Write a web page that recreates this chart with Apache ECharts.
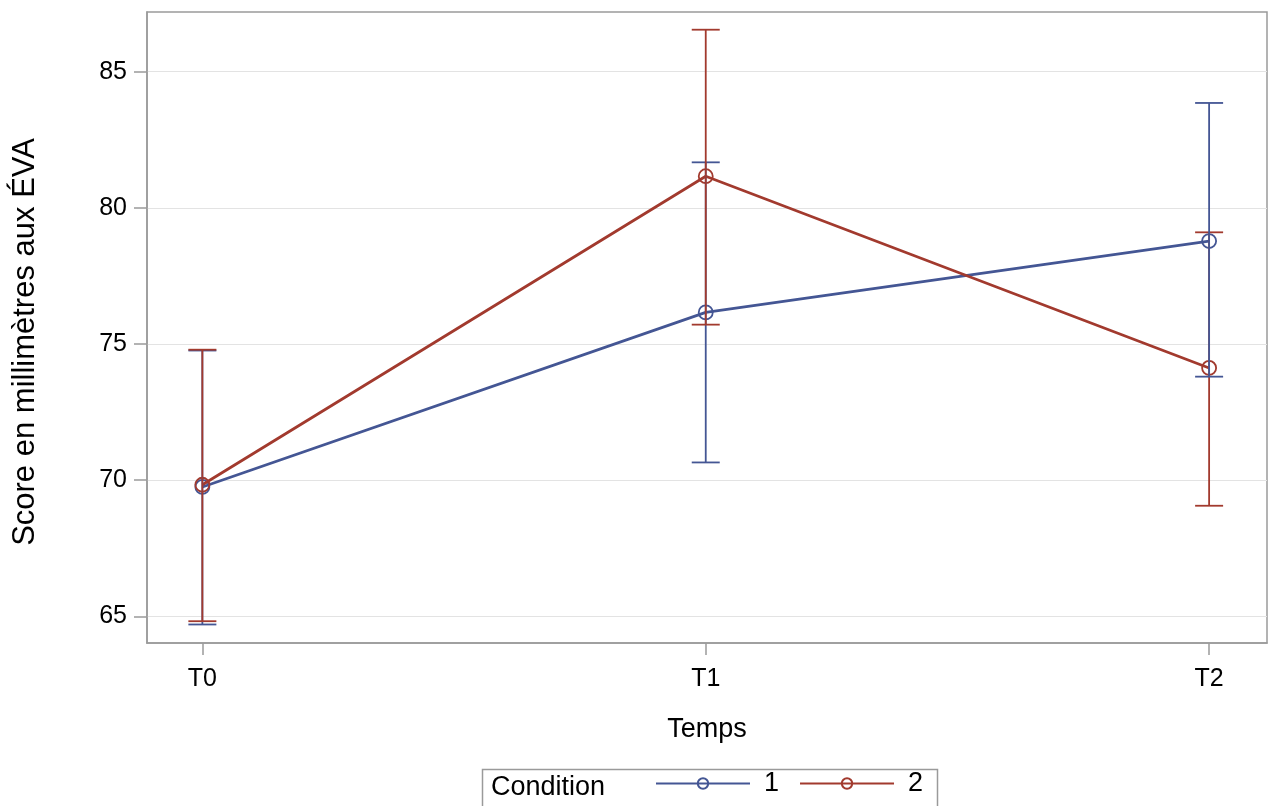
<!DOCTYPE html>
<html>
<head>
<meta charset="utf-8">
<script src="https://cdn.jsdelivr.net/npm/echarts@6/dist/echarts.min.js"></script>
<style>html,body{margin:0;padding:0;background:#fff;}#c{width:1270px;height:806px;}</style>
</head>
<body>
<div id="c"></div>
<script>
var timeLabels = ['T0', 'T1', 'T2'];
var timePos = [0, 1, 2];
var yTicks = [65, 70, 75, 80, 85];
var conditionNames = ['1', '2'];
var mean1 = [69.75, 76.16, 78.78];
var lower1 = [64.70, 70.65, 73.80];
var upper1 = [74.76, 81.67, 83.85];
var mean2 = [69.83, 81.16, 74.12];
var lower2 = [64.82, 75.71, 69.06];
var upper2 = [74.79, 86.54, 79.10];

var BLUE = '#445694', RED = '#A23A2E', FONT = '"Liberation Sans", Arial, sans-serif';

function pairs(means) { return timePos.map(function (x, i) { return [x, means[i]]; }); }
function bars(lo, hi) { return timePos.map(function (x, i) { return [x, lo[i], hi[i]]; }); }

function errRender(color, topIdx) {
  return function (params, api) {
    var x = api.value(0);
    var p1 = api.coord([x, api.value(1)]);
    var p2 = api.coord([x, api.value(2)]);
    var hw = 14;
    var z2 = (params.dataIndex === topIdx) ? 20 : 10;
    var st = { stroke: color, lineWidth: 1.8 };
    return {
      type: 'group',
      children: [
        { type: 'line', z2: z2, shape: { x1: p1[0], y1: p1[1], x2: p2[0], y2: p2[1] }, style: st },
        { type: 'line', z2: z2, shape: { x1: p1[0] - hw, y1: p1[1], x2: p1[0] + hw, y2: p1[1] }, style: st },
        { type: 'line', z2: z2, shape: { x1: p2[0] - hw, y1: p2[1], x2: p2[0] + hw, y2: p2[1] }, style: st }
      ]
    };
  };
}

var chart = echarts.init(document.getElementById('c'), null, { renderer: 'canvas' });
chart.setOption({
  animation: false,
  backgroundColor: '#fff',
  grid: { left: 147, right: 3, top: 12, bottom: 163, show: true, borderColor: '#9a9a9a', borderWidth: 1.5, backgroundColor: 'transparent' },
  xAxis: {
    type: 'value', min: -0.11, max: 2.115,
    name: 'Temps', nameLocation: 'middle', nameGap: 73,
    nameTextStyle: { fontFamily: FONT, fontSize: 27, color: '#000' },
    axisLine: { show: true, onZero: false, lineStyle: { color: '#9a9a9a', width: 1.5 } },
    axisTick: { show: true, customValues: timePos, length: 12, lineStyle: { color: '#9a9a9a', width: 1.5 } },
    axisLabel: { customValues: timePos, margin: 24, fontFamily: FONT, fontSize: 25, color: '#000',
      formatter: function (v) { return timeLabels[Math.round(v)]; } },
    splitLine: { show: false }
  },
  yAxis: {
    type: 'value', min: 64.02, max: 87.19,
    axisLine: { show: true, onZero: false, lineStyle: { color: '#9a9a9a', width: 1.5 } },
    axisTick: { show: true, customValues: yTicks, length: 13, lineStyle: { color: '#9a9a9a', width: 1.5 } },
    axisLabel: { customValues: yTicks, margin: 20, fontFamily: FONT, fontSize: 25, color: '#000' },
    splitLine: { show: true, lineStyle: { color: '#e3e3e3', width: 1.2 } }
  },
  legend: {
    left: 655, top: 770, orient: 'horizontal', padding: 0,
    itemWidth: 94, itemHeight: 13, itemGap: 20,
    textStyle: { fontFamily: FONT, fontSize: 27, color: '#000', padding: [0, 0, 0, 9] },
    data: conditionNames
  },
  graphic: [
    { type: 'rect', left: 480, top: 767, shape: { width: 455, height: 60 }, style: { fill: 'none', stroke: '#9a9a9a', lineWidth: 1.5 }, z: 1 },
    { type: 'text', left: 491, top: 774, style: { text: 'Condition', font: '27px ' + FONT, fill: '#000' }, z: 2 },
    { type: 'text', x: 25, y: 342, rotation: Math.PI / 2, style: { text: 'Score en millimètres aux ÉVA', font: '31px ' + FONT, fill: '#000', textAlign: 'center', textVerticalAlign: 'middle' } }
  ],
  series: [
    { name: conditionNames[0], type: 'line', data: pairs(mean1), symbol: 'circle', symbolSize: 14,
      lineStyle: { color: BLUE, width: 2.8 }, itemStyle: { color: 'rgba(255,255,255,0)', borderColor: BLUE, borderWidth: 1.8 }, z: 2 },
    { name: conditionNames[1], type: 'line', data: pairs(mean2), symbol: 'circle', symbolSize: 14,
      lineStyle: { color: RED, width: 2.8 }, itemStyle: { color: 'rgba(255,255,255,0)', borderColor: RED, borderWidth: 1.8 }, z: 3 },
    { type: 'custom', name: 'err1', data: bars(lower1, upper1), renderItem: errRender(BLUE, 2), z: 4, encode: { x: 0, y: [1, 2] } },
    { type: 'custom', name: 'err2', data: bars(lower2, upper2), renderItem: errRender(RED, -1), z: 4, encode: { x: 0, y: [1, 2] } }
  ]
});
</script>
</body>
</html>
